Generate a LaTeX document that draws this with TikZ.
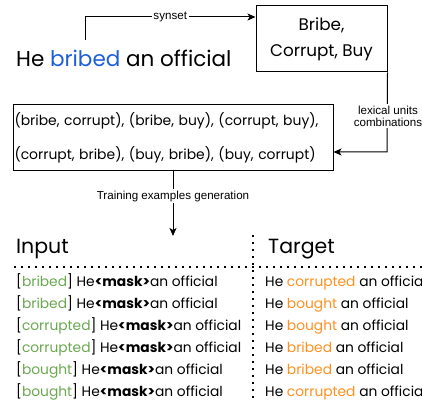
\documentclass[tikz,border=0pt]{standalone}
\usepackage{fontspec}
\setmainfont{Poppins}
\newfontfamily\lab{Liberation Sans}
\usetikzlibrary{arrows.meta}
\definecolor{wordblue}{HTML}{1C5FD8}
\definecolor{srcgreen}{HTML}{6AA84F}
\definecolor{tgtorange}{HTML}{FF901F}
\tikzset{
  conn/.style={line width=1pt, -{Stealth[length=8pt,width=7pt,inset=2pt]}},
  plain/.style={line width=1pt},
  lbl/.style={font=\lab\fontsize{11.6}{13}\selectfont, fill=white, inner sep=1.5pt, align=center},
  boxed/.style={draw, line width=1pt, inner sep=0pt},
  txt/.style={anchor=base west, inner sep=0pt},
  row/.style={txt, font=\fontsize{13.8}{16}\selectfont},
  head/.style={txt, font=\fontsize{20.5}{24}\selectfont},
  dots/.style={line width=1.6pt, dash pattern=on 1.6pt off 5.4pt},
}
\newcommand{\src}[1]{[\textcolor{srcgreen}{#1}]}
\newcommand{\tgt}[1]{\textcolor{tgtorange}{#1}}
\newcommand{\msk}{\textbf{<mask>}}
\begin{document}
\begin{tikzpicture}[x=1pt,y=-1pt]
\useasboundingbox (0,0) rectangle (422,403);

% sentence and its synset
\node[txt, font=\fontsize{21.5}{24}\selectfont] (sent) at (16,67) {He \textcolor{wordblue}{bribed} an official};
\node[boxed, minimum width=131pt, minimum height=66pt, align=center,
      font=\fontsize{16.8}{26}\selectfont] (syn) at (321.5,39) {Bribe,\\Corrupt, Buy};
\coordinate (s0) at (85,40);
\coordinate (s1) at (85,17);
\draw[plain] (s0) -- (s1);
\draw[conn] (s1) -- node[lbl, pos=0.5] {synset} (s1 -| syn.west);

% pairs of lexical units
\node[boxed, minimum height=66pt, text width=317pt, inner xsep=1.5pt, align=left,
      font=\fontsize{13.9}{34}\selectfont] (pairs) at (173,138)
  {(bribe, corrupt), (bribe, buy), (corrupt, buy),\\(corrupt, bribe), (buy, bribe), (buy, corrupt)};
\coordinate (c1) at (387,152);
\draw[conn] (syn.south east) -- (c1) -- (c1 -| pairs.east);
\node[lbl] (lu) at (388,116) {lexical units\\[-1pt]combinations};

% generation step
\coordinate (g1) at (173,236);
\draw[conn] (pairs.south) -- node[lbl, pos=0.38] (gen) {Training examples generation} (g1);

% table of examples
\node[head] (inp) at (16,253) {Input};
\node[head] (tar) at (268,253) {Target};
\coordinate (h0) at (14,267);
\coordinate (h1) at (422,267);
\coordinate (v0) at (253,235);
\coordinate (v1) at (253,403);
\draw[dots] (h0) -- (h1);
\draw[dots] (v0) -- (v1);

\node[row] (i1) at (16,286) {\src{bribed} He\msk an official};
\node[row] (i2) at (16,308) {\src{bribed} He\msk an official};
\node[row] (i3) at (16,330) {\src{corrupted} He\msk an official};
\node[row] (i4) at (16,352) {\src{corrupted} He\msk an official};
\node[row] (i5) at (16,374) {\src{bought} He\msk an official};
\node[row] (i6) at (16,396) {\src{bought} He\msk an official};

\node[row] (t1) at (265,286) {He \tgt{corrupted} an official};
\node[row] (t2) at (265,308) {He \tgt{bought} an official};
\node[row] (t3) at (265,330) {He \tgt{bought} an official};
\node[row] (t4) at (265,352) {He \tgt{bribed} an official};
\node[row] (t5) at (265,374) {He \tgt{bribed} an official};
\node[row] (t6) at (265,396) {He \tgt{corrupted} an official};
\end{tikzpicture}
\end{document}
